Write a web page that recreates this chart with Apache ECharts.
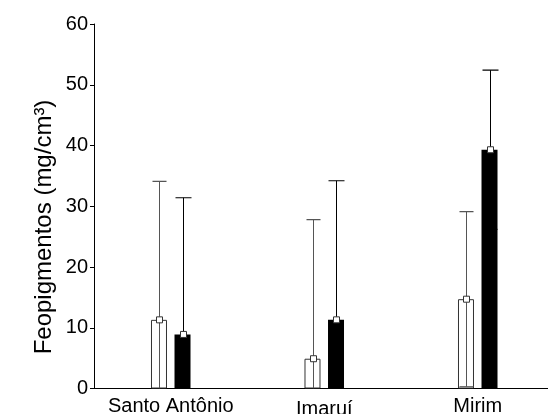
<!DOCTYPE html>
<html><head><meta charset="utf-8">
<script src="https://cdn.jsdelivr.net/npm/echarts@6/dist/echarts.min.js"></script>
<style>html,body{margin:0;padding:0;background:#fff}#c{width:548px;height:414px}</style>
</head><body><div id="c"></div>
<script>
const categories = ['Santo Antônio', 'Imaruí', 'Mirim'];
const whiteMean = [11.3, 4.9, 14.7];
const whiteSD = [22.8, 22.9, 14.4];
const blackMean = [8.9, 11.3, 39.3];
const blackSD = [22.5, 22.9, 13.1];
const yTicks = [0, 10, 20, 30, 40, 50, 60];
const yTitle = 'Feopigmentos (mg/cm³)';

const chart = echarts.init(document.getElementById('c'), null, {renderer: 'canvas'});
const FONT = 'Liberation Sans, Arial, sans-serif';
const BAR_W = 16, OFFSET = 11.75;

function errData(means, sds, s) {
  return means.map((m, i) => [i, m, sds[i], s]);
}

function renderErr(params, api) {
  const idx = api.value(0), m = api.value(1), sd = api.value(2), s = api.value(3);
  const base = api.coord([idx, 0]);
  const x = Math.round(base[0] + (s === 0 ? -OFFSET : OFFSET)) + 0.5;
  const yTop = api.coord([idx, m + sd])[1];
  const lo = m - sd;
  const yBot = lo < 0 ? base[1] : api.coord([idx, lo])[1];
  const yMean = api.coord([idx, m])[1];
  const col = s === 0 ? '#555' : '#000';
  const half = s === 0 ? 7 : 8;
  const children = [
    {type: 'line', shape: {x1: x, y1: yBot, x2: x, y2: yTop}, style: {stroke: col, lineWidth: 1}},
    {type: 'line', shape: {x1: x - half, y1: yTop, x2: x + half, y2: yTop}, style: {stroke: col, lineWidth: 1.2}}
  ];
  if (lo >= 0) {
    children.push({type: 'line', shape: {x1: x - 7, y1: yBot, x2: x + 7, y2: yBot}, style: {stroke: col, lineWidth: 1}});
  }
  children.push({type: 'rect', shape: {x: x - 3, y: yMean - 3, width: 6, height: 6}, style: {fill: '#fff', stroke: '#333', lineWidth: 1}});
  return {type: 'group', children};
}

chart.setOption({
  animation: false,
  backgroundColor: '#fff',
  grid: {left: 94, right: -6.5, top: 24, bottom: 25.5, containLabel: false, outerBoundsMode: 'none'},
  xAxis: {
    type: 'category', data: categories,
    axisLine: {lineStyle: {color: '#000', width: 1}},
    axisTick: {show: false},
    axisLabel: {
      interval: 0, hideOverlap: false,
      color: '#000', fontFamily: FONT, fontSize: 20, margin: 8,
      formatter: v => v === 'Imaruí' ? '{d|' + v + '}' : v,
      rich: {d: {fontFamily: FONT, fontSize: 20, color: '#000', padding: [3, 0, 0, 0]}}
    },
    splitLine: {show: false}
  },
  yAxis: {
    type: 'value', min: yTicks[0], max: yTicks[yTicks.length - 1], interval: 10,
    axisLine: {show: true, lineStyle: {color: '#000', width: 1}},
    axisTick: {show: true, length: 4, lineStyle: {color: '#000'}},
    axisLabel: {color: '#000', fontFamily: FONT, fontSize: 20, margin: 6},
    splitLine: {show: false}
  },
  graphic: [{
    type: 'text', x: 44, y: 227, rotation: Math.PI / 2,
    style: {text: yTitle, fontFamily: FONT, fontSize: 24, fill: '#000', textAlign: 'center', textVerticalAlign: 'middle'}
  }],
  series: [
    {type: 'bar', data: whiteMean, barWidth: BAR_W, barGap: '47%',
     itemStyle: {color: '#fff', borderColor: '#333', borderWidth: 1}},
    {type: 'bar', data: blackMean, barWidth: BAR_W, barGap: '47%',
     itemStyle: {color: '#000', borderColor: '#000', borderWidth: 0}},
    {type: 'custom', data: errData(whiteMean, whiteSD, 0), renderItem: renderErr, z: 5, clip: true},
    {type: 'custom', data: errData(blackMean, blackSD, 1), renderItem: renderErr, z: 5, clip: true}
  ]
});
</script></body></html>
